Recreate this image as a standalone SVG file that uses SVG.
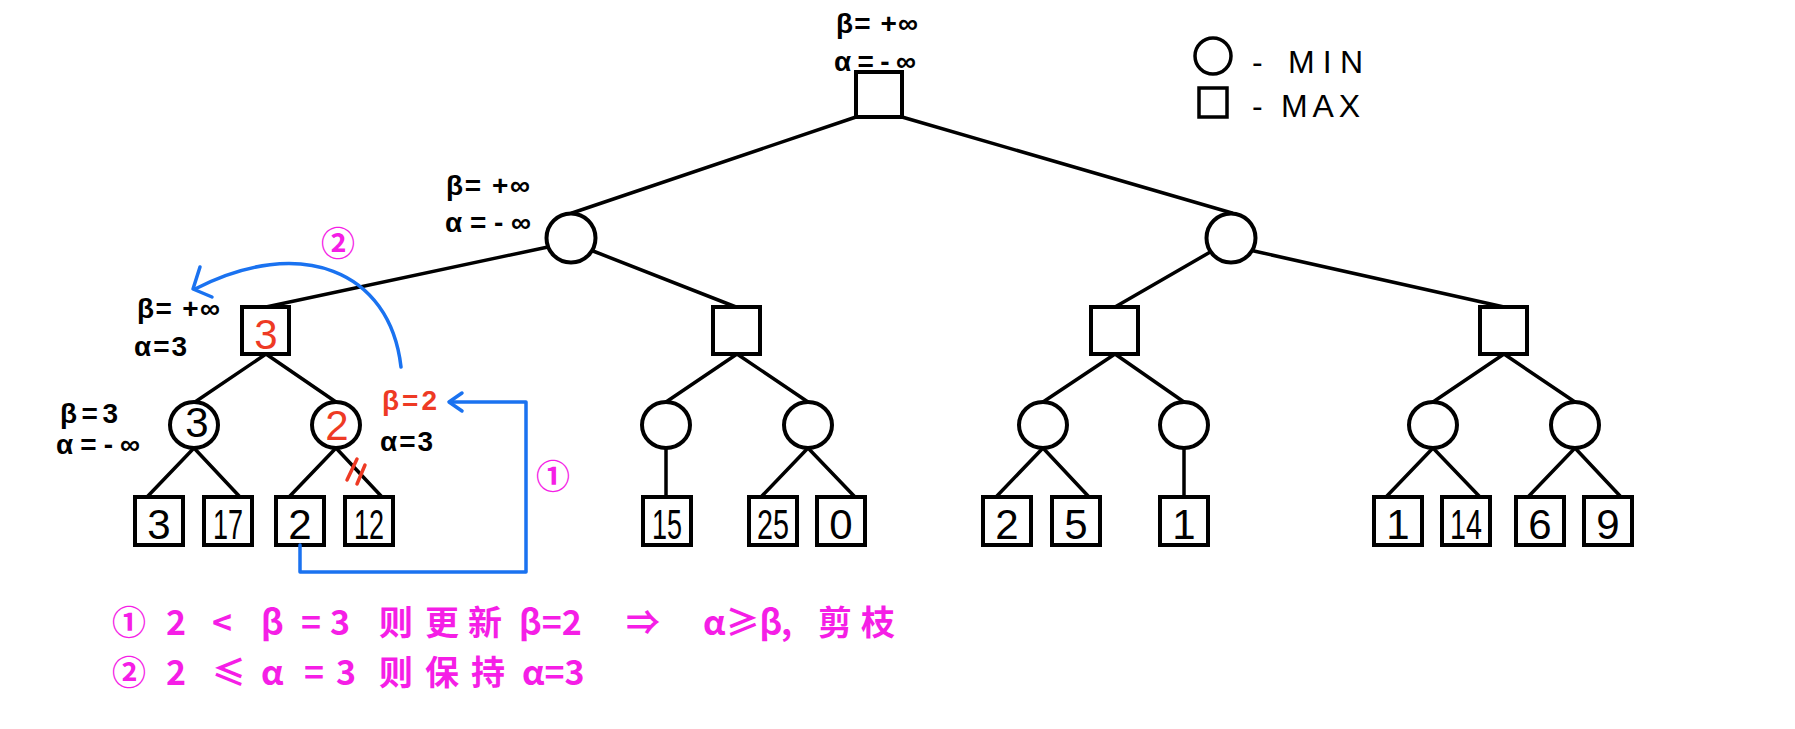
<svg xmlns="http://www.w3.org/2000/svg" width="1795" height="729" viewBox="0 0 1795 729">
<style>
  .edge { stroke:#000; stroke-width:3.5; fill:none; stroke-linecap:round; }
  .node { fill:#fff; stroke:#000; stroke-width:4; }
  .lbl { font-family:"Liberation Sans","DejaVu Sans",sans-serif; font-size:28px; font-weight:bold; fill:#000; }
  .val { font-family:"Liberation Sans","DejaVu Sans",sans-serif; font-size:42px; fill:#000; text-anchor:middle; }
  .blue { stroke:#1a72f0; stroke-width:3.5; fill:none; stroke-linecap:round; stroke-linejoin:round; }
  .note { font-family:"Noto Sans CJK SC","Liberation Sans",sans-serif; font-size:34px; font-weight:bold; fill:#f51ee6; }
  .leg { font-family:"Liberation Sans","DejaVu Sans",sans-serif; font-size:32px; fill:#000; }
  .red { fill:#ee3a24; }
</style>
<rect width="1795" height="729" fill="#fff"/>

<g id="connectors">
  <path class="edge" d="M856,117 L572,213"/>
  <path class="edge" d="M902,117 L1232,213"/>
  <path class="edge" d="M548,247 L266,307"/>
  <path class="edge" d="M593,251 L736,307"/>
  <path class="edge" d="M1212,251 L1115,307"/>
  <path class="edge" d="M1254,251 L1504,307"/>
  <path class="edge" d="M266,354 L195,402"/>
  <path class="edge" d="M266,354 L336,402"/>
  <path class="edge" d="M737,354 L666,402"/>
  <path class="edge" d="M737,354 L808,402"/>
  <path class="edge" d="M1115,354 L1043,402"/>
  <path class="edge" d="M1115,354 L1184,402"/>
  <path class="edge" d="M1504,354 L1433,402"/>
  <path class="edge" d="M1504,354 L1575,402"/>
  <path class="edge" d="M194,448 L147,497"/>
  <path class="edge" d="M194,448 L240,497"/>
  <path class="edge" d="M336,448 L289,497"/>
  <path class="edge" d="M336,448 L382,497"/>
  <path class="edge" d="M666,448 L666,497"/>
  <path class="edge" d="M808,448 L761,497"/>
  <path class="edge" d="M808,448 L855,497"/>
  <path class="edge" d="M1043,448 L996,497"/>
  <path class="edge" d="M1043,448 L1089,497"/>
  <path class="edge" d="M1184,448 L1184,497"/>
  <path class="edge" d="M1433,448 L1386,497"/>
  <path class="edge" d="M1433,448 L1480,497"/>
  <path class="edge" d="M1575,448 L1528,497"/>
  <path class="edge" d="M1575,448 L1621,497"/>
</g>

<g id="node-root">
  <rect class="node" x="856" y="72" width="46" height="45"/>
  <text class="lbl" x="836" y="33" textLength="82">β= +∞</text>
  <text class="lbl" x="834" y="71" textLength="82">α=-∞</text>
</g>

<g id="node-min-left">
  <circle class="node" cx="571" cy="238" r="24.5"/>
  <text class="lbl" x="446" y="195" textLength="84">β= +∞</text>
  <text class="lbl" x="445" y="232" textLength="86">α=-∞</text>
</g>
<g id="node-min-right">
  <circle class="node" cx="1231" cy="238" r="24.5"/>
</g>

<g id="node-max-1">
  <rect class="node" x="242" y="307" width="47" height="47"/>
  <text class="val red" x="266" y="349" font-size="44">3</text>
  <text class="lbl" x="137" y="318" textLength="83">β= +∞</text>
  <text class="lbl" x="134" y="356" textLength="53">α=3</text>
</g>
<g id="node-max-2"><rect class="node" x="713" y="307" width="47" height="47"/></g>
<g id="node-max-3"><rect class="node" x="1091" y="307" width="47" height="47"/></g>
<g id="node-max-4"><rect class="node" x="1480" y="307" width="47" height="47"/></g>

<g id="node-min-1">
  <ellipse class="node" cx="194" cy="425" rx="24" ry="23"/>
  <text class="val" x="197" y="437" font-size="34">3</text>
  <text class="lbl" x="60" y="423" textLength="58">β=3</text>
  <text class="lbl" x="56" y="454" textLength="84">α=-∞</text>
</g>
<g id="node-min-2">
  <ellipse class="node" cx="336" cy="425" rx="24" ry="23"/>
  <text class="val red" x="337" y="440" font-size="32">2</text>
  <text class="lbl red" x="382" y="410" textLength="55">β=2</text>
  <text class="lbl" x="380" y="451" textLength="53">α=3</text>
  <path d="M357,459 L347,480 M365,465 L357,484" stroke="#ee3a24" stroke-width="3.5" stroke-linecap="round" fill="none"/>
</g>
<g id="node-min-3"><ellipse class="node" cx="666" cy="425" rx="24" ry="23"/></g>
<g id="node-min-4"><ellipse class="node" cx="808" cy="425" rx="24" ry="23"/></g>
<g id="node-min-5"><ellipse class="node" cx="1043" cy="425" rx="24" ry="23"/></g>
<g id="node-min-6"><ellipse class="node" cx="1184" cy="425" rx="24" ry="23"/></g>
<g id="node-min-7"><ellipse class="node" cx="1433" cy="425" rx="24" ry="23"/></g>
<g id="node-min-8"><ellipse class="node" cx="1575" cy="425" rx="24" ry="23"/></g>

<g id="leaf-3"><rect class="node" x="135" y="497" width="48" height="48"/><text class="val" x="159" y="539">3</text></g>
<g id="leaf-17"><rect class="node" x="204" y="497" width="48" height="48"/><text class="val" x="228" y="539" textLength="30" lengthAdjust="spacingAndGlyphs">17</text></g>
<g id="leaf-2a"><rect class="node" x="276" y="497" width="48" height="48"/><text class="val" x="300" y="539">2</text></g>
<g id="leaf-12"><rect class="node" x="345" y="497" width="48" height="48"/><text class="val" x="369" y="539" textLength="30" lengthAdjust="spacingAndGlyphs">12</text></g>
<g id="leaf-15"><rect class="node" x="643" y="497" width="48" height="48"/><text class="val" x="667" y="539" textLength="30" lengthAdjust="spacingAndGlyphs">15</text></g>
<g id="leaf-25"><rect class="node" x="749" y="497" width="48" height="48"/><text class="val" x="773" y="539" textLength="32" lengthAdjust="spacingAndGlyphs">25</text></g>
<g id="leaf-0"><rect class="node" x="817" y="497" width="48" height="48"/><text class="val" x="841" y="539">0</text></g>
<g id="leaf-2b"><rect class="node" x="983" y="497" width="48" height="48"/><text class="val" x="1007" y="539">2</text></g>
<g id="leaf-5"><rect class="node" x="1052" y="497" width="48" height="48"/><text class="val" x="1076" y="539">5</text></g>
<g id="leaf-1a"><rect class="node" x="1160" y="497" width="48" height="48"/><text class="val" x="1184" y="539">1</text></g>
<g id="leaf-1b"><rect class="node" x="1374" y="497" width="48" height="48"/><text class="val" x="1398" y="539">1</text></g>
<g id="leaf-14"><rect class="node" x="1442" y="497" width="48" height="48"/><text class="val" x="1466" y="539" textLength="32" lengthAdjust="spacingAndGlyphs">14</text></g>
<g id="leaf-6"><rect class="node" x="1516" y="497" width="48" height="48"/><text class="val" x="1540" y="539">6</text></g>
<g id="leaf-9"><rect class="node" x="1584" y="497" width="48" height="48"/><text class="val" x="1608" y="539">9</text></g>

<g id="legend">
  <circle cx="1213" cy="56" r="18" fill="#fff" stroke="#000" stroke-width="3.5"/>
  <rect x="1199" y="88" width="28" height="29" fill="#fff" stroke="#000" stroke-width="3.5"/>
  <text class="leg" x="1252" y="73" textLength="111">- MIN</text>
  <text class="leg" x="1252" y="117" textLength="108">- MAX</text>
</g>

<g id="annotations">
  <path class="blue" d="M300,545 L300,572 L526,572 L526,402 L450,402"/>
  <path class="blue" d="M462,393 L449,402 L462,411"/>
  <path class="blue" d="M401,367 C390,270 300,235 195,289"/>
  <path class="blue" d="M200,267 L193,289 L212,297"/>
  <text class="note" x="553" y="489" font-size="30" text-anchor="middle">①</text>
  <text class="note" x="338" y="256" font-size="30" text-anchor="middle">②</text>
</g>

<g id="notes">
  <text class="note" y="635"><tspan x="112">①</tspan><tspan x="166">2</tspan><tspan x="212">&lt;</tspan><tspan x="261">β</tspan><tspan x="301">=</tspan><tspan x="330">3</tspan><tspan x="379">则</tspan><tspan x="425">更</tspan><tspan x="468">新</tspan><tspan x="519">β=2</tspan><tspan x="626">⇒</tspan><tspan x="703">α≥β</tspan><tspan x="781">,</tspan><tspan x="818">剪</tspan><tspan x="861">枝</tspan></text>
  <text class="note" y="685"><tspan x="112">②</tspan><tspan x="166">2</tspan><tspan x="212">≤</tspan><tspan x="261">α</tspan><tspan x="304">=</tspan><tspan x="336">3</tspan><tspan x="379">则</tspan><tspan x="425">保</tspan><tspan x="471">持</tspan><tspan x="522">α=3</tspan></text>
</g>
</svg>
